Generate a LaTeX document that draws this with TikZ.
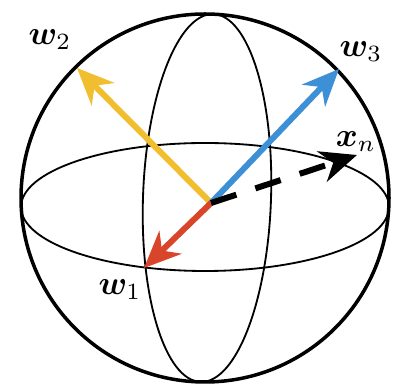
\documentclass[tikz,border=0pt]{standalone}
\usepackage{bm}
\usetikzlibrary{arrows.meta}
\definecolor{wyellow}{HTML}{F0BE2E}
\definecolor{wblue}{HTML}{3D8FD6}
\definecolor{wred}{HTML}{D8452A}
\begin{document}
\begin{tikzpicture}[x=0.3pt,y=0.3pt,
  vec/.style={line width=1.8pt,-{Stealth[length=11pt,width=9.5pt,inset=3.5pt]}},
  lab/.style={inner sep=0pt},
  thin/.style={line width=0.55pt}]
\useasboundingbox (0,0) rectangle (392,392);
% sphere
\draw[line width=1.05pt] (205,194) circle[radius=55.2pt];
\draw[thin] (205,185) ellipse[x radius=55.2pt,y radius=19.2pt];
\draw[thin,rotate around={-2:(207,194)}] (207,194) ellipse[x radius=19.2pt,y radius=55.2pt];
% vectors
\coordinate (O) at (211,189);
\coordinate (t2) at (77,324);
\coordinate (t3) at (339,323);
\coordinate (tn) at (357,237);
\coordinate (t1) at (144,124);
\draw[vec,wyellow] (O) -- (t2);
\draw[vec,wblue] (O) -- (t3);
\draw[vec,wred] (O) -- (t1);
\draw[vec,black,dash pattern=on 8pt off 6pt] (O) -- (tn);
% labels
\node[lab] (l2) at (50,352) {$\bm{w}_2$};
\node[lab] (l3) at (361,340) {$\bm{w}_3$};
\node[lab] (ln) at (356,250) {$\bm{x}_n$};
\node[lab] (l1) at (120,102) {$\bm{w}_1$};
\end{tikzpicture}
\end{document}
